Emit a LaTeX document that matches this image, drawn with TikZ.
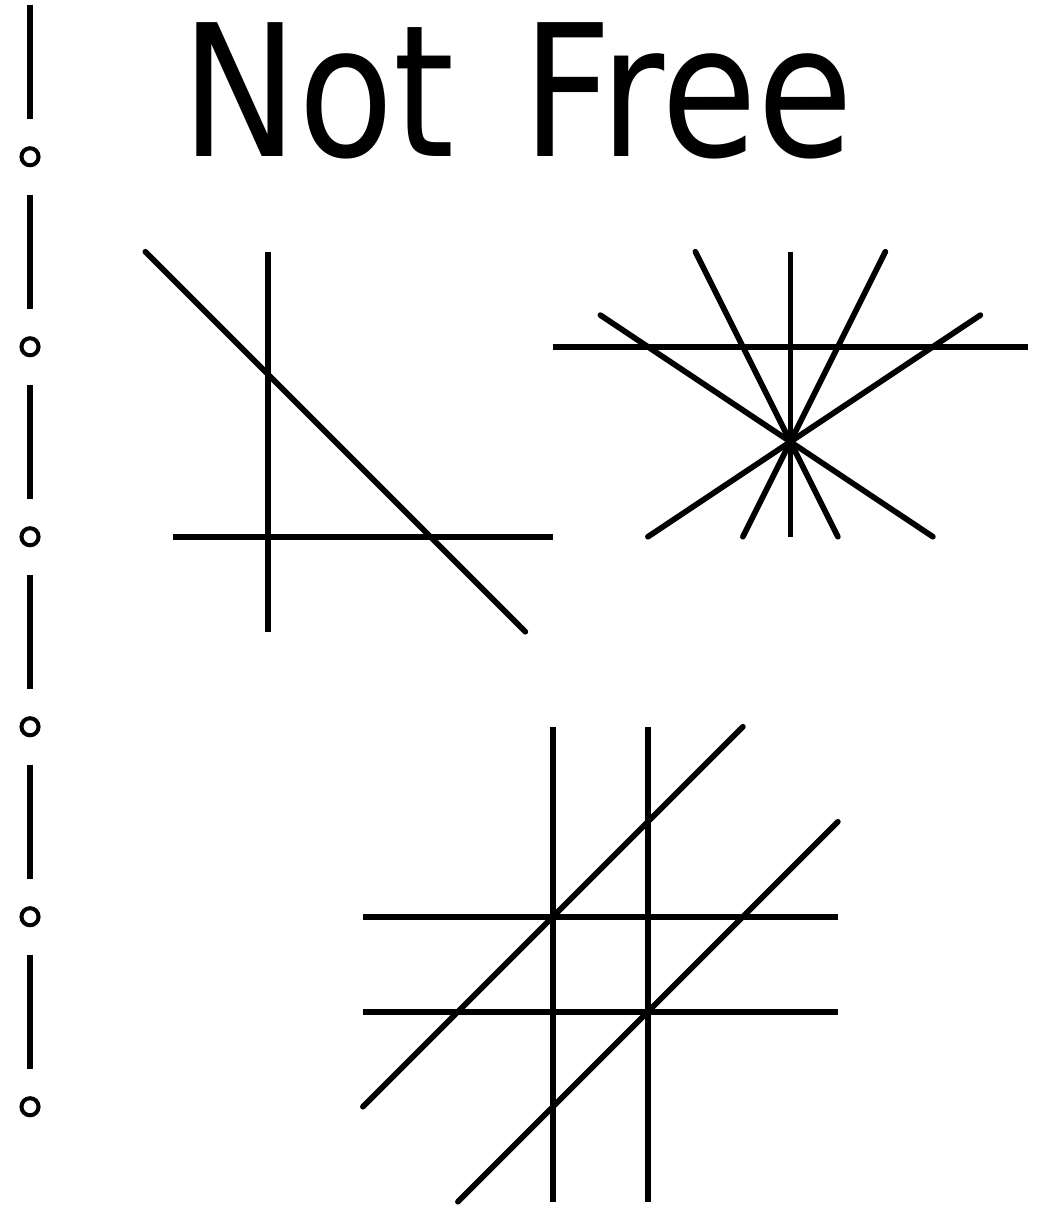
\documentclass[tikz,border=0pt]{standalone}
\usepackage{fontspec}
\newfontfamily\titlefont{DejaVu Sans}

\tikzset{
  gridline/.style={line width=1.7pt},
  slantline/.style={line width=1.7pt, line cap=round},
  railmark/.style={line width=1.2pt, fill=white},
}

\begin{document}
\begin{tikzpicture}

  % Page frame (reference proportions)
  \useasboundingbox (-0.82, 0.65) rectangle (10.117, -12.045);

  % Dashed rail with small circles on the left
  \foreach \y in {0, -2, -4, -6, -8, -10}
    \draw[gridline] (-0.504, \y + 0.6) -- (-0.504, \y - 0.6);
  \foreach \y in {-1, -3, -5, -7, -9, -11}
    \draw[railmark] (-0.504, \y) circle (0.09);

  % Title
  \node[anchor=base, inner sep=0pt, xscale=0.85] (title) at (4.63, -1.0)
    {\titlefont\fontsize{55}{60}\selectfont Not\hspace{0.22cm} Free};

  % Three lines, pairwise crossing
  \draw[gridline] (2, -2) -- (2, -6);
  \draw[gridline] (1, -5) -- (5, -5);
  \draw[slantline] (0.71, -2) -- (4.71, -6);

  % Lines through one common point
  \coordinate (hub) at (7.5, -4);
  \draw[gridline] (7.5, -2) -- (7.5, -5);
  \draw[gridline] (5, -3) -- (10, -3);
  \draw[slantline] (6.5, -2) -- (8, -5);
  \draw[slantline] (8.5, -2) -- (7, -5);
  \draw[slantline] (5.5, -2.667) -- (9, -5);
  \draw[slantline] (9.5, -2.667) -- (6, -5);

  % Three parallel families
  \draw[gridline] (5, -7) -- (5, -12);
  \draw[gridline] (6, -7) -- (6, -12);
  \draw[gridline] (3, -9) -- (8, -9);
  \draw[gridline] (3, -10) -- (8, -10);
  \draw[slantline] (3, -11) -- (7, -7);
  \draw[slantline] (4, -12) -- (8, -8);

\end{tikzpicture}
\end{document}
